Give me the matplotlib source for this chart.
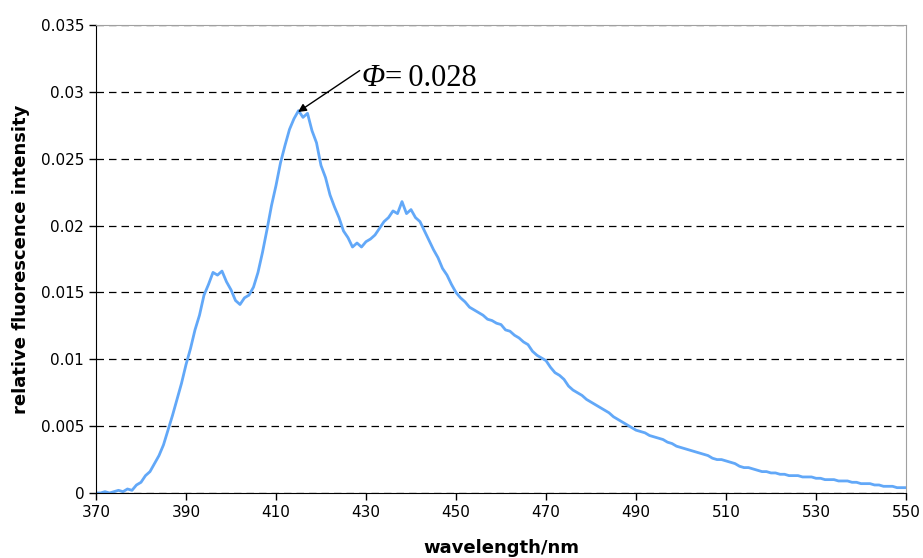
import numpy as np
import matplotlib
matplotlib.use('Agg')
import matplotlib.pyplot as plt

# wavelength in nm, 1 nm steps
wavelength = np.arange(370, 551)

# relative fluorescence intensity
intensity = [
    0.0000, 0.0000, 0.0001, 0.0000, 0.0001, 0.0002, 0.0001, 0.0003,  # 370-377
    0.0002, 0.0006, 0.0008, 0.0013, 0.0016, 0.0022, 0.0028, 0.0036,  # 378-385
    0.0047, 0.0058, 0.0070, 0.0082, 0.0096, 0.0108, 0.0122, 0.0133,  # 386-393
    0.0148, 0.0156, 0.0165, 0.0163, 0.0166, 0.0158, 0.0152, 0.0144,  # 394-401
    0.0141, 0.0146, 0.0148, 0.0154, 0.0165, 0.0180, 0.0197, 0.0215,  # 402-409
    0.0230, 0.0247, 0.0260, 0.0272, 0.0280, 0.0286, 0.0281, 0.0284,  # 410-417
    0.0271, 0.0262, 0.0245, 0.0236, 0.0223, 0.0214, 0.0206, 0.0196,  # 418-425
    0.0191, 0.0184, 0.0187, 0.0184, 0.0188, 0.0190, 0.0193, 0.0198,  # 426-433
    0.0203, 0.0206, 0.0211, 0.0209, 0.0218, 0.0209, 0.0212, 0.0206,  # 434-441
    0.0203, 0.0196, 0.0189, 0.0182, 0.0176, 0.0168, 0.0163, 0.0156,  # 442-449
    0.0150, 0.0146, 0.0143, 0.0139, 0.0137, 0.0135, 0.0133, 0.0130,  # 450-457
    0.0129, 0.0127, 0.0126, 0.0122, 0.0121, 0.0118, 0.0116, 0.0113,  # 458-465
    0.0111, 0.0106, 0.0103, 0.0101, 0.0099, 0.0094, 0.0090, 0.0088,  # 466-473
    0.0085, 0.0080, 0.0077, 0.0075, 0.0073, 0.0070, 0.0068, 0.0066,  # 474-481
    0.0064, 0.0062, 0.0060, 0.0057, 0.0055, 0.0053, 0.0051, 0.0049,  # 482-489
    0.0047, 0.0046, 0.0045, 0.0043, 0.0042, 0.0041, 0.0040, 0.0038,  # 490-497
    0.0037, 0.0035, 0.0034, 0.0033, 0.0032, 0.0031, 0.0030, 0.0029,  # 498-505
    0.0028, 0.0026, 0.0025, 0.0025, 0.0024, 0.0023, 0.0022, 0.0020,  # 506-513
    0.0019, 0.0019, 0.0018, 0.0017, 0.0016, 0.0016, 0.0015,          # 514-520
    0.0015, 0.0014, 0.0014, 0.0013, 0.0013, 0.0013, 0.0012, 0.0012,  # 521-528
    0.0012, 0.0011, 0.0011, 0.0010, 0.0010, 0.0010, 0.0009, 0.0009,  # 529-536
    0.0009, 0.0008, 0.0008, 0.0007, 0.0007, 0.0007, 0.0006, 0.0006,  # 537-544
    0.0005, 0.0005, 0.0005, 0.0004, 0.0004, 0.0004,                  # 545-550
]

x_ticks = list(range(370, 551, 20))
y_ticks = [0, 0.005, 0.01, 0.015, 0.02, 0.025, 0.03, 0.035]
y_ticklabels = ['0', '0.005', '0.01', '0.015', '0.02', '0.025', '0.03', '0.035']

fig = plt.figure(figsize=(9.23, 5.58), dpi=100)
ax = fig.add_axes([0.104, 0.1165, 0.8776, 0.8385])

ax.plot(wavelength, intensity, color='#62A8F8', linewidth=2.0)

ax.set_xlim(370, 550)
ax.set_ylim(0, 0.035)
ax.set_xticks(x_ticks)
ax.set_yticks(y_ticks)
ax.set_yticklabels(y_ticklabels)
ax.tick_params(axis='both', labelsize=11, direction='out', length=5, width=1)

ax.yaxis.grid(True, linestyle=(0, (6, 4)), color='black', linewidth=0.9)
ax.set_axisbelow(True)

ax.spines['left'].set_color('black')
ax.spines['bottom'].set_color('black')
ax.spines['top'].set_color('#a0a0a0')
ax.spines['right'].set_color('#a0a0a0')

ax.set_xlabel('wavelength/nm', fontsize=13, fontweight='bold', labelpad=14)
ax.set_ylabel('relative fluorescence intensity', fontsize=13, fontweight='bold', labelpad=8)

# quantum yield label: italic Phi + upright value, arrow to the peak
phi = ax.text(429.0, 0.0310, 'Φ', fontsize=22, family='Liberation Serif',
              style='italic', va='center', ha='left')
ax.annotate('=\u20090.028', xy=(1.0, 0.5), xycoords=phi,
            fontsize=22, family='Liberation Serif', va='center', ha='left')
ax.annotate('', xy=(414.9, 0.0285), xytext=(428.6, 0.0316),
            arrowprops=dict(arrowstyle='-|>', color='black', lw=1.0,
                            shrinkA=0, shrinkB=0, mutation_scale=12))

fig.savefig('out.png', dpi=100)
